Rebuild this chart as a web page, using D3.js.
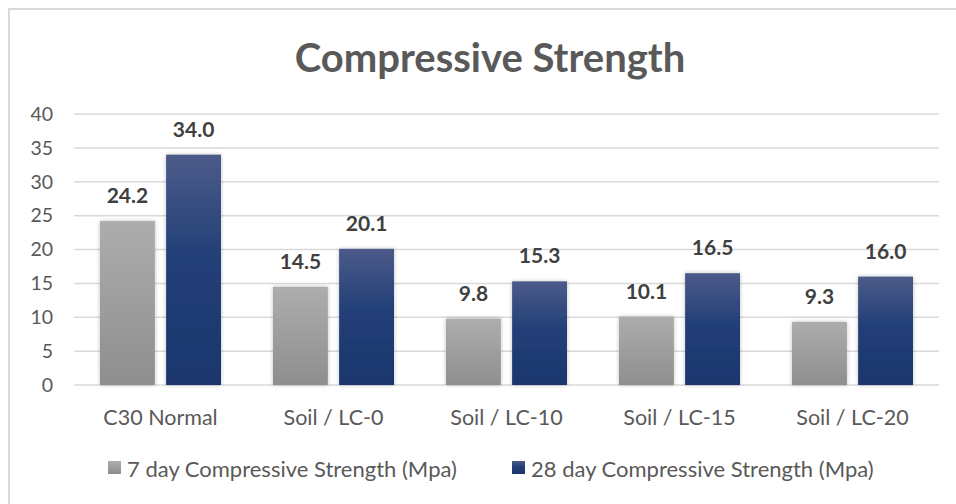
<!DOCTYPE html>
<html>
<head>
<meta charset="utf-8">
<script src="https://cdn.jsdelivr.net/npm/d3@7"></script>
<style>
  html, body { margin: 0; padding: 0; background: #fff; }
  svg { display: block; }
  text { font-family: Lato, "Open Sans", sans-serif; }
</style>
</head>
<body>
<svg id="chart" width="956" height="504"></svg>
<script>
// Compressive strength results (MPa)
const categories = ["C30 Normal", "Soil / LC-0", "Soil / LC-10", "Soil / LC-15", "Soil / LC-20"];
const seriesNames = ["7 day Compressive Strength (Mpa)", "28 day Compressive Strength (Mpa)"];
const day7 = [24.2, 14.5, 9.8, 10.1, 9.3];
const day28 = [34.0, 20.1, 15.3, 16.5, 16.0];
const yTicks = [0, 5, 10, 15, 20, 25, 30, 35, 40];

const svg = d3.select("#chart");
const W = 956, H = 504;
const margin = { left: 74, right: 17, top: 114, bottom: 119 };
const plotW = W - margin.left - margin.right;
const plotH = H - margin.top - margin.bottom;
const FONT = "Lato, 'Open Sans', sans-serif";

// gradients + soft shadow for the bars
const defs = svg.append("defs");
const gGray = defs.append("linearGradient").attr("id", "gradGray").attr("x1", 0).attr("y1", 0).attr("x2", 0).attr("y2", 1);
gGray.append("stop").attr("offset", "0%").attr("stop-color", "#adadad");
gGray.append("stop").attr("offset", "100%").attr("stop-color", "#8e8e8e");
const gBlue = defs.append("linearGradient").attr("id", "gradBlue").attr("x1", 0).attr("y1", 0).attr("x2", 0).attr("y2", 1);
gBlue.append("stop").attr("offset", "0%").attr("stop-color", "#4b5b89");
gBlue.append("stop").attr("offset", "45%").attr("stop-color", "#233f78");
gBlue.append("stop").attr("offset", "100%").attr("stop-color", "#1a366d");
const shadow = defs.append("filter").attr("id", "glow").attr("x", "-20%").attr("y", "-10%").attr("width", "140%").attr("height", "120%");
shadow.append("feGaussianBlur").attr("in", "SourceAlpha").attr("stdDeviation", 2).attr("result", "blur");
shadow.append("feComponentTransfer").attr("in", "blur").attr("result", "faint")
  .append("feFuncA").attr("type", "linear").attr("slope", 0.25);
const merge = shadow.append("feMerge");
merge.append("feMergeNode").attr("in", "faint");
merge.append("feMergeNode").attr("in", "SourceGraphic");

// chart frame
svg.append("rect")
  .attr("x", 9).attr("y", 9).attr("width", W + 10).attr("height", H + 10)
  .attr("fill", "#fff").attr("stroke", "#d9d9d9").attr("stroke-width", 2);

// title
svg.append("text")
  .attr("x", 490).attr("y", 72)
  .attr("text-anchor", "middle")
  .attr("font-size", 40).attr("font-weight", 700)
  .attr("fill", "#595959")
  .text("Compressive Strength");

const x0 = d3.scaleBand().domain(categories).range([margin.left, margin.left + plotW]).paddingInner(0).paddingOuter(0);
const x1 = d3.scaleBand().domain(seriesNames).range([26, x0.bandwidth() - 26]).paddingInner(0.17);
const y = d3.scaleLinear().domain([0, 40]).range([margin.top + plotH, margin.top]);

// gridlines
svg.append("g").selectAll("line").data(yTicks).join("line")
  .attr("x1", margin.left).attr("x2", margin.left + plotW)
  .attr("y1", d => y(d)).attr("y2", d => y(d))
  .attr("stroke", "#d9d9d9").attr("stroke-width", 1.5);

// y axis labels
const yAxis = d3.axisLeft(y).tickValues(yTicks).tickSize(0).tickPadding(0);
const gy = svg.append("g").attr("transform", `translate(${margin.left - 21},0)`).call(yAxis);
gy.select(".domain").remove();
gy.selectAll("text").attr("font-size", 19.5).attr("fill", "#595959").attr("font-family", FONT);

// x axis labels
const xAxis = d3.axisBottom(x0).tickSize(0).tickPadding(0);
const gx = svg.append("g").attr("transform", `translate(0,${y(0)})`).call(xAxis);
gx.select(".domain").remove();
gx.selectAll("text").attr("y", 40).attr("dy", 0)
  .attr("font-size", 21.5).attr("fill", "#595959").attr("font-family", FONT);

// bars
const rows = categories.map((c, i) => ({ cat: c, vals: [day7[i], day28[i]] }));
const fills = ["url(#gradGray)", "url(#gradBlue)"];
const groups = svg.append("g").selectAll("g").data(rows).join("g")
  .attr("transform", d => `translate(${x0(d.cat)},0)`);
groups.selectAll("rect").data(d => d.vals.map((v, k) => ({ v, k }))).join("rect")
  .attr("x", d => x1(seriesNames[d.k]))
  .attr("width", x1.bandwidth())
  .attr("y", d => y(d.v))
  .attr("height", d => y(0) - y(d.v))
  .attr("fill", d => fills[d.k])
  .attr("filter", "url(#glow)");
groups.selectAll("text.val").data(d => d.vals.map((v, k) => ({ v, k }))).join("text")
  .attr("class", "val")
  .attr("x", d => x1(seriesNames[d.k]) + x1.bandwidth() / 2)
  .attr("y", d => y(d.v) - 18)
  .attr("text-anchor", "middle")
  .attr("font-size", 21).attr("font-weight", 700)
  .attr("fill", "#404040")
  .text(d => d.v.toFixed(1));

// legend
const legendItems = [
  { name: seriesNames[0], fill: "url(#gradGray)", x: 108 },
  { name: seriesNames[1], fill: "url(#gradBlue)", x: 512 }
];
const lg = svg.append("g").selectAll("g").data(legendItems).join("g")
  .attr("transform", d => `translate(${d.x},461)`);
lg.append("rect").attr("width", 13).attr("height", 13).attr("fill", d => d.fill);
lg.append("text").attr("x", 19).attr("y", 16)
  .attr("font-size", 22).attr("fill", "#595959")
  .text(d => d.name);
</script>
</body>
</html>
